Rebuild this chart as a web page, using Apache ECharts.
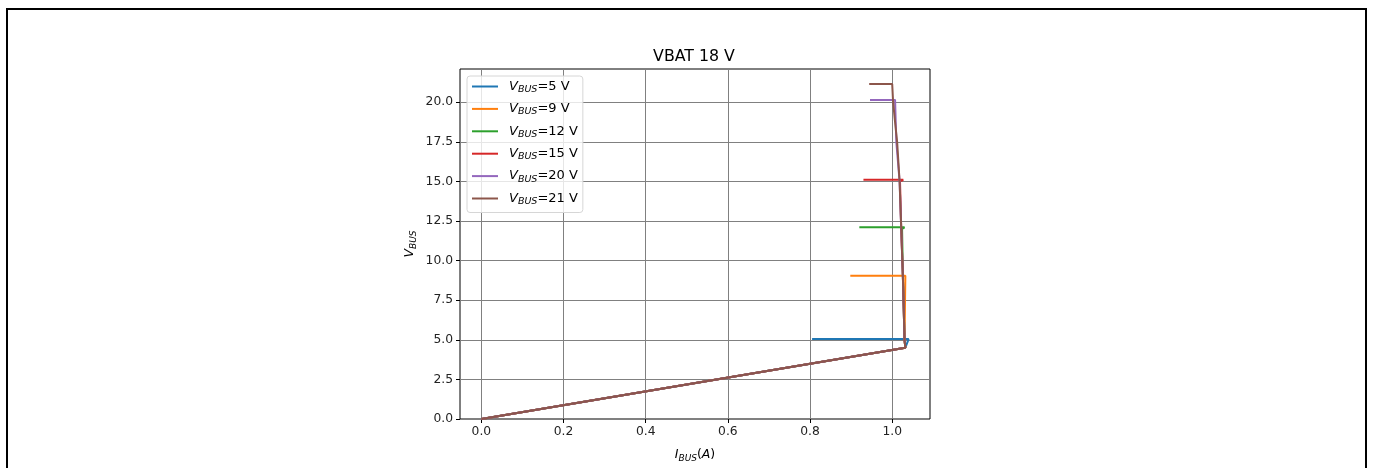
<!DOCTYPE html>
<html>
<head>
<meta charset="utf-8">
<script src="https://cdn.jsdelivr.net/npm/echarts@6/dist/echarts.min.js"></script>
<style>
  html, body { margin: 0; padding: 0; background: #fff; }
  #chart { width: 1373px; height: 468px; }
</style>
</head>
<body>
<div id="chart"></div>
<script>
// legend labels (V_BUS set point)
const vbusNames = ['5 V', '9 V', '12 V', '15 V', '20 V', '21 V'];
const colors = ['#1f77b4', '#ff7f0e', '#2ca02c', '#d62728', '#9467bd', '#8c564b'];

// I_BUS (A) and V_BUS (V) for each sweep
const i5 = [0.805, 1.040, 1.032, 0.000];
const v5 = [5.05, 5.05, 4.50, 0.00];
const i9 = [0.898, 1.032, 1.028, 1.030, 1.032, 0.000];
const v9 = [9.05, 9.05, 9.00, 5.00, 4.50, 0.00];
const i12 = [0.920, 1.030, 1.024, 1.026, 1.030, 1.032, 0.000];
const v12 = [12.1, 12.1, 12.0, 9.00, 5.00, 4.50, 0.00];
const i15 = [0.930, 1.027, 1.019, 1.022, 1.026, 1.030, 1.032, 0.000];
const v15 = [15.1, 15.1, 15.0, 12.0, 9.00, 5.00, 4.50, 0.00];
const i20 = [0.946, 1.007, 1.010, 1.018, 1.022, 1.026, 1.030, 1.032, 0.000];
const v20 = [20.15, 20.15, 17.5, 15.0, 12.0, 9.00, 5.00, 4.50, 0.00];
const i21 = [0.944, 1.000, 1.002, 1.006, 1.012, 1.018, 1.022, 1.026, 1.030, 1.032, 0.000];
const v21 = [21.15, 21.15, 20.1, 19.0, 17.5, 15.0, 12.0, 9.00, 5.00, 4.50, 0.00];

const iList = [i5, i9, i12, i15, i20, i21];
const vList = [v5, v9, v12, v15, v20, v21];

const xTicks = [0, 0.2, 0.4, 0.6, 0.8, 1.0];
const yTicks = [0, 2.5, 5, 7.5, 10, 12.5, 15, 17.5, 20];

const FONT = 'DejaVu Sans';
const chart = echarts.init(document.getElementById('chart'));

const series = vbusNames.map((n, k) => ({
  name: n,
  type: 'line',
  symbol: 'none',
  data: iList[k].map((x, j) => [x, vList[k][j]]),
  lineStyle: { color: colors[k], width: 2 },
  itemStyle: { color: colors[k] },
}));

const subRich = {
  i: { fontFamily: FONT, fontSize: 12.5, fontStyle: 'italic', lineHeight: 16, verticalAlign: 'middle', color: '#000' },
  s: { fontFamily: FONT, fontSize: 9, fontStyle: 'italic', lineHeight: 16, verticalAlign: 'bottom', color: '#000' },
  n: { fontFamily: FONT, fontSize: 12.5, lineHeight: 16, verticalAlign: 'middle', color: '#000' },
};
const legRich = {
  i: Object.assign({}, subRich.i, { fontSize: 13 }),
  s: Object.assign({}, subRich.s, { fontSize: 9.5 }),
  n: Object.assign({}, subRich.n, { fontSize: 13 }),
};

chart.setOption({
  animation: false,
  color: colors,
  title: {
    text: 'VBAT 18 V',
    left: 689,
    top: 44,
    textAlign: 'center',
    textStyle: { fontFamily: FONT, fontSize: 15.8, fontWeight: 'normal', color: '#000' },
  },
  grid: {
    left: 460, top: 69, right: 443, bottom: 49,
    show: true, borderColor: '#000', borderWidth: 1,
  },
  legend: {
    orient: 'vertical',
    left: 467, top: 76,
    padding: [4, 5, 6, 5],
    icon: 'rect',
    itemWidth: 26, itemHeight: 2, itemGap: 7.9,
    backgroundColor: 'rgba(255,255,255,0.8)',
    borderColor: '#d6d6d6', borderWidth: 1, borderRadius: 3,
    formatter: (name) => '{i|V}{s|BUS}{n|=' + name + '}',
    textStyle: {
      fontFamily: FONT, fontSize: 13, color: '#000', padding: [0, 0, 0, 6],
      rich: legRich,
    },
    data: vbusNames,
  },
  xAxis: {
    type: 'value',
    min: -0.052, max: 1.092, interval: 0.2,
    name: '{i|I}{s|BUS}{n|(}{i|A}{n|)}',
    nameLocation: 'middle', nameGap: 28,
    nameTextStyle: { rich: subRich },
    axisLine: { show: false, onZero: false },
    axisTick: { show: true, length: 4, inside: false, customValues: xTicks, lineStyle: { color: '#000' } },
    axisLabel: {
      customValues: xTicks,
      fontFamily: FONT, fontSize: 12.3, color: '#222', margin: 7,
      formatter: (v) => v.toFixed(1),
    },
    splitLine: { show: true, lineStyle: { color: '#808080', width: 1 } },
  },
  yAxis: {
    type: 'value',
    min: 0, max: 22.1, interval: 2.5,
    name: '{i|V}{s|BUS}',
    nameLocation: 'middle', nameGap: 42, nameRotate: 90,
    nameTextStyle: { rich: subRich },
    axisLine: { show: false, onZero: false },
    axisTick: { show: true, length: 4, inside: false, customValues: yTicks, lineStyle: { color: '#000' } },
    axisLabel: {
      customValues: yTicks,
      fontFamily: FONT, fontSize: 12.3, color: '#222', margin: 7,
      formatter: (v) => v.toFixed(1),
    },
    splitLine: { show: true, lineStyle: { color: '#808080', width: 1 } },
  },
  graphic: [{
    type: 'rect',
    shape: { x: 7, y: 9, width: 1359, height: 600 },
    style: { fill: 'none', stroke: '#000', lineWidth: 2 },
    silent: true,
  }],
  series: series,
});
</script>
</body>
</html>
